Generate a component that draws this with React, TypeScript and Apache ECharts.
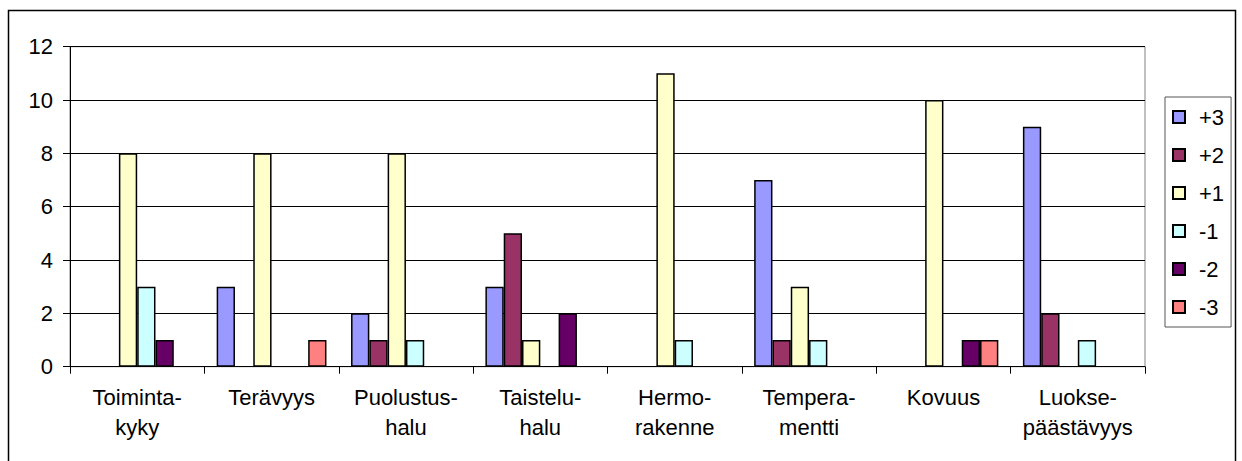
import React, { useEffect, useRef } from "react";
import * as echarts from "echarts";

const categories = [
  "Toiminta-\nkyky",
  "Terävyys",
  "Puolustus-\nhalu",
  "Taistelu-\nhalu",
  "Hermo-\nrakenne",
  "Tempera-\nmentti",
  "Kovuus",
  "Luokse-\npäästävyys",
];

const seriesNames = ["+3", "+2", "+1", "-1", "-2", "-3"];
const plus3 = [0, 3, 2, 3, 0, 7, 0, 9];
const plus2 = [0, 0, 1, 5, 0, 1, 0, 2];
const plus1 = [8, 8, 8, 1, 11, 3, 10, 0];
const minus1 = [3, 0, 1, 0, 1, 1, 0, 1];
const minus2 = [1, 0, 0, 2, 0, 0, 1, 0];
const minus3 = [0, 1, 0, 0, 0, 0, 1, 0];
const seriesValues = [plus3, plus2, plus1, minus1, minus2, minus3];
const seriesColors = ["#9999FF", "#993366", "#FFFFCC", "#CCFFFF", "#660066", "#FF8080"];

const yTicks = [0, 2, 4, 6, 8, 10, 12];

const FONT = "'Liberation Sans', Arial, sans-serif";

export default function App() {
  const ref = useRef<HTMLDivElement>(null);
  useEffect(() => {
    if (!ref.current) return;
    const chart = echarts.init(ref.current, undefined, { renderer: "svg" });
    chart.setOption({
      animation: false,
      backgroundColor: "#fff",
      textStyle: { fontFamily: FONT, color: "#000" },
      grid: {
        left: 70,
        right: 97,
        top: 46.7,
        bottom: 94.3,
        show: true,
        borderColor: "#808080",
        borderWidth: 1,
      },
      legend: {
        orient: "vertical",
        left: 1165,
        top: 97,
        icon: "rect",
        itemWidth: 12,
        itemHeight: 12,
        itemGap: 16,
        padding: [9, 7, 9, 7],
        borderColor: "#555",
        borderWidth: 1,
        data: seriesNames,
        textStyle: {
          fontFamily: FONT,
          fontSize: 22,
          lineHeight: 20,
          color: "#000",
          padding: [0, 0, 0, 9],
        },
      },
      xAxis: {
        type: "category",
        data: categories,
        boundaryGap: true,
        axisLine: { lineStyle: { color: "#000", width: 1 } },
        axisTick: { show: true, length: 7, alignWithLabel: false, lineStyle: { color: "#000" } },
        axisLabel: {
          interval: 0,
          margin: 16,
          fontFamily: FONT,
          fontSize: 22,
          lineHeight: 30,
          color: "#000",
        },
      },
      yAxis: {
        type: "value",
        min: yTicks[0],
        max: yTicks[yTicks.length - 1],
        interval: 2,
        axisLine: { show: true, lineStyle: { color: "#000", width: 1 } },
        axisTick: { show: true, length: 7, lineStyle: { color: "#000" } },
        axisLabel: { margin: 17, fontFamily: FONT, fontSize: 22, color: "#000" },
        splitLine: { show: true, lineStyle: { color: "#000", width: 1 } },
      },
      series: seriesNames.map((name, i) => ({
        name,
        type: "bar",
        data: seriesValues[i].map((v) => (v === 0 ? "-" : v)),
        barWidth: 18.3,
        barGap: "0%",
        itemStyle: { color: seriesColors[i], borderColor: "#000", borderWidth: 1.5 },
      })),
      graphic: [
        {
          type: "rect",
          shape: { x: 8.5, y: 10.5, width: 1227, height: 470 },
          style: { fill: "none", stroke: "#000", lineWidth: 1.5 },
          silent: true,
        },
      ],
    });
    return () => chart.dispose();
  }, []);
  return (
    <div
      ref={ref}
      style={{ position: "absolute", left: 0, top: 0, width: 1242, height: 461 }}
    />
  );
}
